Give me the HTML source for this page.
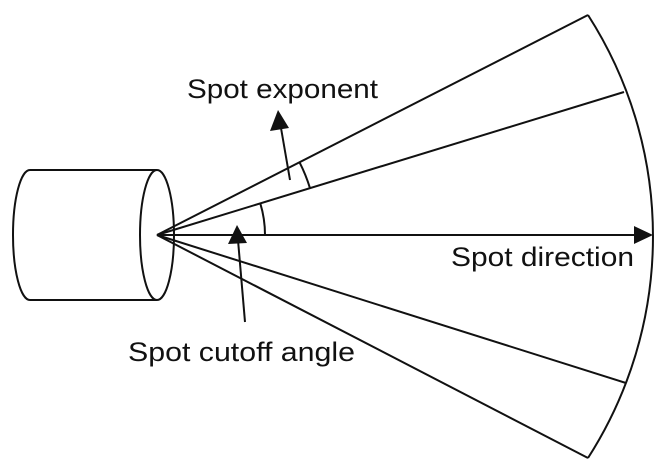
<!DOCTYPE html>
<html><head><meta charset="utf-8"><style>
html,body{margin:0;padding:0;background:#fff;width:669px;height:473px;overflow:hidden}
text{font-family:"Liberation Sans",sans-serif;font-size:27px;fill:#111}
</style></head><body>
<svg width="669" height="473" viewBox="0 0 669 473">
<g stroke="#111" stroke-width="2" fill="none">
<g>
<path d="M30,170 L157,170 M30,300 L157,300"/>
<path d="M30,170 A17,65 0 0 0 30,300"/>
<ellipse cx="157" cy="235" rx="17" ry="65" fill="#fff"/>
</g>
<g>
<line x1="157" y1="235" x2="588" y2="15"/>
<line x1="157" y1="235" x2="624" y2="92"/>
<line x1="157" y1="235" x2="626" y2="383"/>
<line x1="157" y1="235" x2="588" y2="458"/>
<line x1="157" y1="235" x2="640" y2="235"/>
<path d="M588,15 A410,410 0 0 1 588,458"/>
<path d="M299.6,162.4 A160,160 0 0 1 310,188.2"/>
<path d="M260.3,203.4 A108,108 0 0 1 265,235"/>
<line x1="290" y1="180" x2="281" y2="128"/>
<line x1="245" y1="322" x2="238" y2="240"/>
</g>
</g>
<polygon points="653,235 634,226 634,244" fill="#111"/>
<polygon points="278,110 270,131 289,128" fill="#111"/>
<polygon points="237,225 228,244 247,243" fill="#111"/>
<text x="187" y="98" textLength="191" lengthAdjust="spacingAndGlyphs">Spot exponent</text>
<text x="451" y="266" textLength="183" lengthAdjust="spacingAndGlyphs">Spot direction</text>
<text x="128" y="361" textLength="227" lengthAdjust="spacingAndGlyphs">Spot cutoff angle</text>
</svg>
</body></html>
